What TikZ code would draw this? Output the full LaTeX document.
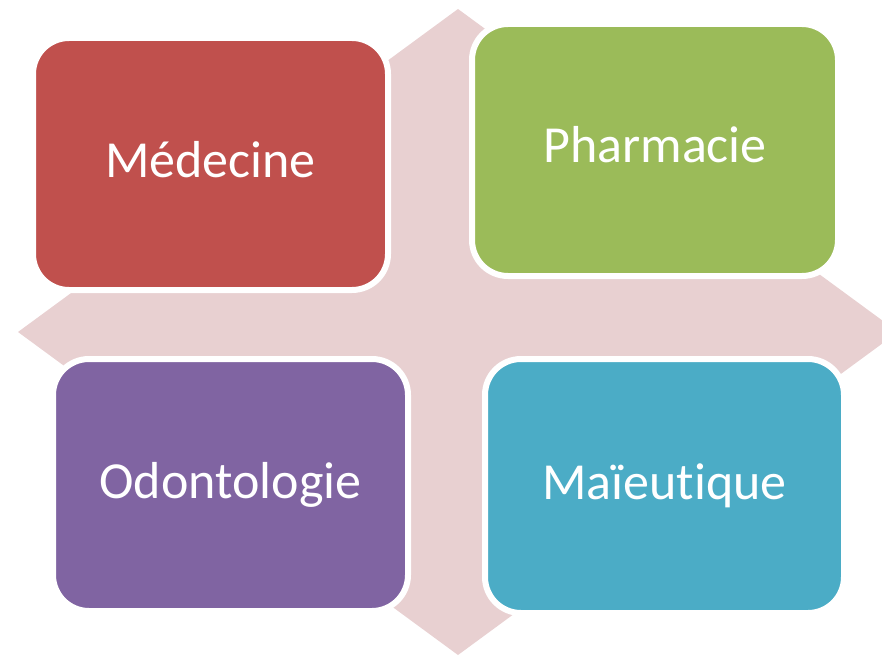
\documentclass[tikz,border=0pt]{standalone}
\usepackage{fontspec}
\setmainfont{Carlito}[Ligatures={NoCommon}]
\definecolor{cross}{RGB}{232,208,209}
\definecolor{cred}{RGB}{192,80,77}
\definecolor{cgreen}{RGB}{155,187,89}
\definecolor{cpurple}{RGB}{128,100,162}
\definecolor{cblue}{RGB}{75,172,198}
\tikzset{
  tile/.style={draw=white, line width=6pt, rounded corners=36pt, inner sep=0pt,
    text=white, font=\fontsize{52}{60}\selectfont, text height=38pt, text depth=12pt,
    align=center}
}
\begin{document}
\begin{tikzpicture}[x=1pt,y=-1pt]
\useasboundingbox (0,0) rectangle (882,655);
\begin{scope}
\clip (0,0) rectangle (882,655);
\fill[cross] (18,332) coordinate (cl) -- (458,9) coordinate (ct) -- (898,332) coordinate (cr) -- (458,655) coordinate (cb) -- cycle;
\end{scope}
\node[tile, fill=cred, minimum width=355pt, minimum height=252pt] (med) at (210.5,164) {Médecine};
\node[tile, fill=cgreen, minimum width=366pt, minimum height=252pt] (pha) at (655,150) {Pharmacie};
\node[tile, fill=cpurple, minimum width=355pt, minimum height=252pt] (odo) at (230.5,485) {Odontologie};
\node[tile, fill=cblue, minimum width=359pt, minimum height=254pt] (mai) at (664.5,486) {Maïeutique};
\end{tikzpicture}
\end{document}
